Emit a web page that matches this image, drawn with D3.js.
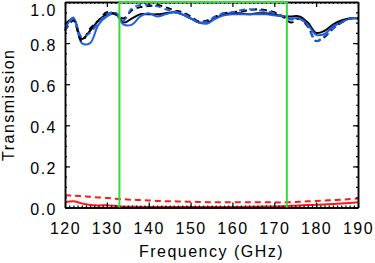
<!DOCTYPE html>
<html>
<head>
<meta charset="utf-8">
<script src="https://cdn.jsdelivr.net/npm/d3@7"></script>
<style>
  body { margin: 0; background: #fff; }
  svg text { font-family: "Liberation Sans", Arial, sans-serif; font-size: 16px; letter-spacing: 1.5px; fill: #000; }
</style>
</head>
<body>
<div id="chart"></div>
<script>
// frequency grid (GHz)
const freq = d3.range(120, 191, 2);

// transmission curves
const blackSolid = [0.89, 0.92, 0.82, 0.86, 0.91, 0.94, 0.945, 0.90, 0.92, 0.94, 0.94, 0.94, 0.945, 0.95, 0.94, 0.92, 0.90, 0.90,
  0.92, 0.94, 0.945, 0.945, 0.94, 0.945, 0.945, 0.94, 0.93, 0.93, 0.93, 0.90, 0.85, 0.86, 0.89, 0.91, 0.92, 0.92];
const blackDashed = [0.86, 0.91, 0.81, 0.87, 0.91, 0.95, 0.94, 0.92, 0.96, 0.975, 0.98, 0.985, 0.975, 0.96, 0.95, 0.93, 0.905, 0.91,
  0.93, 0.945, 0.95, 0.955, 0.96, 0.965, 0.96, 0.95, 0.93, 0.90, 0.92, 0.88, 0.81, 0.83, 0.87, 0.90, 0.92, 0.92];
const blueSolid = [0.87, 0.925, 0.80, 0.80, 0.89, 0.93, 0.945, 0.89, 0.89, 0.93, 0.945, 0.93, 0.94, 0.95, 0.94, 0.92, 0.90, 0.895,
  0.92, 0.935, 0.94, 0.94, 0.94, 0.94, 0.94, 0.935, 0.93, 0.92, 0.92, 0.89, 0.84, 0.845, 0.88, 0.90, 0.92, 0.92];
const blueDashed = [0.86, 0.92, 0.83, 0.85, 0.90, 0.94, 0.95, 0.91, 0.97, 0.985, 0.985, 0.98, 0.965, 0.955, 0.945, 0.925, 0.90, 0.905,
  0.93, 0.945, 0.95, 0.96, 0.965, 0.96, 0.955, 0.945, 0.93, 0.915, 0.92, 0.885, 0.81, 0.835, 0.87, 0.90, 0.92, 0.92];
const redSolid = [0.026, 0.03, 0.02, 0.012, 0.01, 0.011, 0.008, 0.004, 0.004, 0.003, 0.003, 0.003, 0.003, 0.003, 0.003, 0.003, 0.003, 0.003,
  0.003, 0.003, 0.003, 0.003, 0.004, 0.004, 0.005, 0.005, 0.006, 0.008, 0.01, 0.012, 0.013, 0.015, 0.017, 0.02, 0.022, 0.025];
const redDashed = [0.06, 0.058, 0.055, 0.052, 0.049, 0.046, 0.043, 0.04, 0.038, 0.036, 0.034, 0.032, 0.031, 0.03, 0.029, 0.028, 0.027, 0.026,
  0.026, 0.025, 0.025, 0.025, 0.025, 0.025, 0.025, 0.025, 0.025, 0.026, 0.028, 0.03, 0.032, 0.034, 0.036, 0.038, 0.041, 0.044];

// band edges (green box)
const bandEdges = [133, 173];

const xTicks = [120, 130, 140, 150, 160, 170, 180, 190];
const yTicks = [0.0, 0.2, 0.4, 0.6, 0.8, 1.0];

const W = 375, H = 263;
const margin = { top: 2, right: 17, bottom: 55.5, left: 65 };

const svg = d3.select("#chart").append("svg")
  .attr("width", W).attr("height", H);

const x = d3.scaleLinear().domain([120, 190]).range([margin.left, W - margin.right]);
const y = d3.scaleLinear().domain([0, 1]).range([H - margin.bottom, margin.top]);

const series = [
  { v: redDashed, color: "#ff1a1a", dash: "6,4" },
  { v: redSolid, color: "#ff1a1a", dash: null },
  { v: blackSolid, color: "#000", dash: null },
  { v: blueSolid, color: "#1f5fe6", dash: null },
  { v: blackDashed, color: "#000", dash: "6,4" },
  { v: blueDashed, color: "#1f5fe6", dash: "6,4" }
];

const line = d3.line()
  .x((d, i) => x(freq[i]))
  .y(d => y(d))
  .curve(d3.curveCatmullRom);

series.forEach(s => {
  svg.append("path")
    .datum(s.v)
    .attr("fill", "none")
    .attr("stroke", s.color)
    .attr("stroke-width", 2)
    .attr("stroke-dasharray", s.dash)
    .attr("d", line);
});

// axes, ticks pointing inward
function styleAxis(g) {
  g.selectAll(".domain").attr("stroke", "#000").attr("stroke-width", 1.5);
  g.selectAll(".tick line").attr("stroke", "#000").attr("stroke-width", 1.2);
  g.selectAll("text").attr("font-family", null).attr("font-size", null);
}

const minorX = d3.range(120, 191, 1);
const minorY = d3.range(0, 1.001, 0.05);

// minor ticks
svg.append("g").attr("transform", `translate(0,${y(0)})`)
  .call(d3.axisBottom(x).tickValues(minorX).tickSize(-2).tickSizeOuter(0).tickFormat(""))
  .call(styleAxis);
svg.append("g").attr("transform", `translate(0,${y(1)})`)
  .call(d3.axisTop(x).tickValues(minorX).tickSize(-2).tickSizeOuter(0).tickFormat(""))
  .call(styleAxis);
svg.append("g").attr("transform", `translate(${x(120)},0)`)
  .call(d3.axisLeft(y).tickValues(minorY).tickSize(-2).tickSizeOuter(0).tickFormat(""))
  .call(styleAxis);
svg.append("g").attr("transform", `translate(${x(190)},0)`)
  .call(d3.axisRight(y).tickValues(minorY).tickSize(-2).tickSizeOuter(0).tickFormat(""))
  .call(styleAxis);

// major ticks and labels
svg.append("g").attr("transform", `translate(0,${y(0)})`)
  .call(d3.axisBottom(x).tickValues(xTicks).tickSize(-5).tickSizeOuter(0).tickPadding(15).tickFormat(d3.format("d")))
  .call(styleAxis);
svg.append("g").attr("transform", `translate(0,${y(1)})`)
  .call(d3.axisTop(x).tickValues(xTicks).tickSize(-5).tickSizeOuter(0).tickFormat(""))
  .call(styleAxis);
svg.append("g").attr("transform", `translate(${x(120)},0)`)
  .call(d3.axisLeft(y).tickValues(yTicks).tickSize(-5).tickSizeOuter(0).tickPadding(8).tickFormat(d3.format(".1f")))
  .call(styleAxis)
  .call(g => g.selectAll(".tick text")
    .attr("dy", "0.45em")
    .attr("y", d => d === 1 ? 6 : 0));
svg.append("g").attr("transform", `translate(${x(190)},0)`)
  .call(d3.axisRight(y).tickValues(yTicks).tickSize(-5).tickSizeOuter(0).tickFormat(""))
  .call(styleAxis);

// green band box
const green = "#33dd33";
bandEdges.forEach(f => {
  svg.append("line")
    .attr("x1", x(f)).attr("x2", x(f))
    .attr("y1", y(0)).attr("y2", y(1))
    .attr("stroke", green).attr("stroke-width", 2);
});
svg.append("line")
  .attr("x1", x(bandEdges[0])).attr("x2", x(bandEdges[1]))
  .attr("y1", y(1)).attr("y2", y(1))
  .attr("stroke", green).attr("stroke-width", 2);

// titles
svg.append("text")
  .attr("x", (x(120) + x(190)) / 2)
  .attr("y", 257)
  .attr("text-anchor", "middle")
  .text("Frequency (GHz)");

svg.append("text")
  .attr("transform", `translate(14,${(y(0) + y(1)) / 2}) rotate(-90)`)
  .attr("text-anchor", "middle")
  .text("Transmission");
</script>
</body>
</html>
